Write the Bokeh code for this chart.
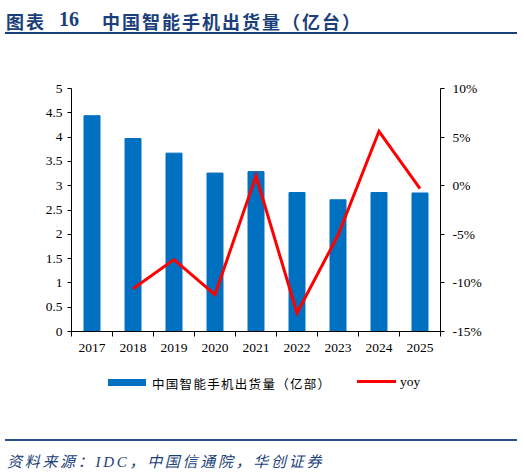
from bokeh.plotting import figure
from bokeh.layouts import column
from bokeh.models import (Range1d, LinearAxis, FixedTicker, CustomJSTickFormatter, Div)
from bokeh.embed import file_html
from bokeh.resources import INLINE

# ---- data ----
years = ["2017", "2018", "2019", "2020", "2021", "2022", "2023", "2024", "2025"]
shipments = [4.44, 3.97, 3.67, 3.26, 3.29, 2.86, 2.71, 2.86, 2.85]  # 亿部
yoy_years = ["2018", "2019", "2020", "2021", "2022", "2023", "2024", "2025"]
yoy = [-10.6, -7.6, -11.2, 1.0, -13.1, -5.1, 5.6, -0.3]  # %
left_ticks = [0, 0.5, 1, 1.5, 2, 2.5, 3, 3.5, 4, 4.5, 5]
right_ticks = [-15, -10, -5, 0, 5, 10]
title_prefix = "图表"
title_number = "16"
title_text = "中国智能手机出货量（亿台）"
bar_label = "中国智能手机出货量（亿部）"
line_label = "yoy"
source_text = "资料来源：IDC，中国信通院，华创证券"

BAR_COLOR = "#0070C0"
LINE_COLOR = "#FF0000"
SERIF = "Liberation Serif, Noto Sans CJK SC"
CSS_FONT = "'Liberation Serif','Noto Sans CJK SC',serif"
NAVY = "#1B3F7A"
W = 524
H_HEAD, H_MAIN, H_FOOT = 40, 325, 110

# ---- header (title + rule) ----
head_style = (f"position:absolute;top:8px;line-height:19px;white-space:nowrap;"
              f"font:bold 18px {CSS_FONT};color:{NAVY};letter-spacing:2px;")
header = Div(width=W, height=H_HEAD, margin=0, text=(
    f'<div style="position:relative;width:{W}px;height:{H_HEAD}px;">'
    f'<span style="{head_style}left:6px;">{title_prefix}</span>'
    f'<span style="{head_style}left:59px;font-size:20px;letter-spacing:0;">{title_number}</span>'
    f'<span style="{head_style}left:102px;">{title_text}</span>'
    f'<div style="position:absolute;left:5px;top:32px;width:512px;height:2px;background:{NAVY};"></div>'
    '</div>'))

# ---- main chart ----
xs = list(range(len(years)))
yoy_x = [years.index(y) for y in yoy_years]

p = figure(width=W, height=H_MAIN, x_range=Range1d(-0.5, len(years) - 0.5),
           y_range=Range1d(left_ticks[0], left_ticks[-1]),
           output_backend="svg", toolbar_location=None,
           min_border_left=71, min_border_right=84, min_border_top=48, min_border_bottom=34)
p.outline_line_color = None
p.xgrid.visible = False
p.ygrid.visible = False
p.extra_y_ranges = {"yoy": Range1d(right_ticks[0], right_ticks[-1])}

bars = p.vbar(x=xs, top=shipments, width=0.39, color=BAR_COLOR)
line = p.line(x=yoy_x, y=yoy, y_range_name="yoy", line_color=LINE_COLOR,
              line_width=3, line_join="miter")

xa = p.xaxis[0]
xa.ticker = FixedTicker(ticks=xs, minor_ticks=[x - 0.5 for x in xs] + [xs[-1] + 0.5])
xa.major_label_overrides = {x: years[x] for x in xs}
xa.major_tick_out = 0
xa.major_tick_in = 0
xa.minor_tick_out = 5
xa.minor_tick_in = 0
xa.major_label_standoff = 7

ya = p.yaxis[0]
ya.ticker = FixedTicker(ticks=left_ticks, minor_ticks=[])
ya.formatter = CustomJSTickFormatter(code="return tick.toString()")
ya.major_tick_out = 4
ya.major_tick_in = 0
ya.minor_tick_out = 0
ya.minor_tick_in = 0
ya.major_label_standoff = 5

ra = LinearAxis(y_range_name="yoy")
ra.ticker = FixedTicker(ticks=right_ticks, minor_ticks=[])
ra.formatter = CustomJSTickFormatter(code="return tick.toString() + '%'")
ra.major_tick_out = 4
ra.major_tick_in = 0
ra.minor_tick_out = 0
ra.minor_tick_in = 0
ra.major_label_standoff = 8
p.add_layout(ra, "right")

for ax in (xa, ya, ra):
    ax.axis_line_color = "#000000"
    ax.major_tick_line_color = "#000000"
    ax.minor_tick_line_color = "#000000"
    ax.major_label_text_font = SERIF
    ax.major_label_text_font_size = "13.5px"
    ax.major_label_text_color = "#000000"

# ---- footer (legend + rule + source) ----
lab_style = "position:absolute;top:9px;line-height:16px;white-space:nowrap;color:#000;"
footer = Div(width=W, height=H_FOOT, margin=0, text=(
    f'<div style="position:relative;width:{W}px;height:{H_FOOT}px;">'
    f'<div style="position:absolute;left:108px;top:14px;width:38px;height:7px;background:{BAR_COLOR};"></div>'
    f'<span style="{lab_style}left:152px;font:12.5px {CSS_FONT};letter-spacing:1.3px;">{bar_label}</span>'
    f'<div style="position:absolute;left:357px;top:15px;width:39px;height:3px;background:{LINE_COLOR};"></div>'
    f'<span style="{lab_style}left:400px;font:13.5px {CSS_FONT};">{line_label}</span>'
    f'<div style="position:absolute;left:5px;top:74px;width:512px;height:2px;background:#2A4F8C;"></div>'
    f'<span style="position:absolute;left:7px;top:85px;line-height:16px;white-space:nowrap;'
    f'font:italic 15px {CSS_FONT};letter-spacing:2.7px;color:{NAVY};">{source_text}</span>'
    '</div>'))

layout = column(header, p, footer, spacing=0)
open("out.html", "w").write(file_html(layout, INLINE))
